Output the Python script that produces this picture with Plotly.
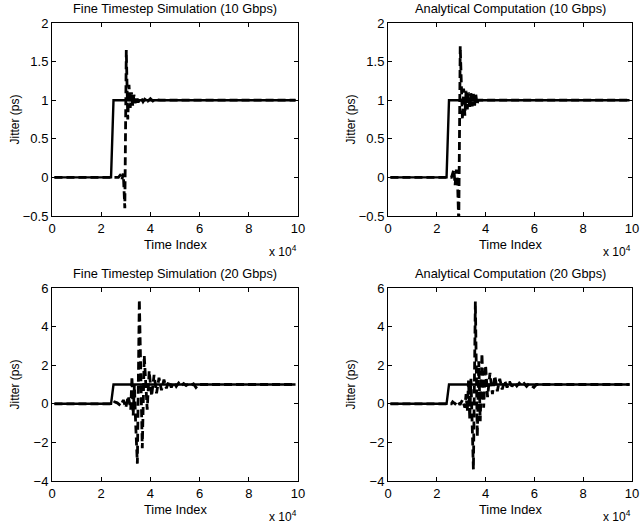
import plotly.graph_objects as go

# ---------------- data ----------------
# ideal step (solid) - shared by all panels
step_x = [1000, 24000, 25000, 99000]
step_y = [0, 0, 1, 1]

# Fine timestep simulation, 10 Gbps (dashed)
fts10_x = [1000, 27000, 28000, 28500, 29000, 29600, 30200, 30800, 31300, 31800, 32300,
           32800, 33300, 33800, 34300, 35000, 36000, 37000, 38000, 39000, 40000, 41000,
           42000, 43000, 44000, 99000]
fts10_y = [0, 0, 0.04, -0.02, 0.05, -0.4, 1.65, 0.75, 1.2, 0.9, 1.1,
           0.93, 1.07, 0.96, 1.05, 0.97, 1.04, 0.98, 1.03, 0.99, 1.02, 0.99,
           1.01, 1.0, 1.0, 1.0]

# Analytical computation, 10 Gbps (dashed)
ana10_x = [1000, 26000, 27000, 27500, 28000, 28500, 29000, 29600, 30500, 31000, 31500,
           32000, 32500, 33000, 33500, 34000, 34500, 35000, 35500, 36000, 36500, 37000,
           37500, 99000]
ana10_y = [0, 0, 0.1, -0.1, 0.1, -0.05, -0.6, 1.7, 0.75, 1.15, 0.8,
           1.12, 0.88, 1.1, 0.9, 1.09, 0.92, 1.08, 0.93, 1.07, 0.95, 1.0,
           1.0, 1.0]

# Fine timestep simulation, 20 Gbps (dashed)
fts20_x = [1000, 25000, 25500, 26500, 28000, 29000, 30000, 31000, 32000, 32500, 33000,
           33500, 34000, 34700, 35500, 36700, 37500, 38700, 39500, 40500, 41500, 42500,
           43500, 44500, 45500, 46500, 47500, 48500, 49500, 50500, 51500, 52500, 53500,
           54500, 55500, 56500, 57500, 58500, 59500, 60500, 99000]
fts20_y = [0, 0, 0.1, 0.05, -0.1, 0.2, -0.2, 0.4, -0.3, 1.4, -0.6,
           1.0, -1.0, -3.1, 5.4, -2.3, 2.5, -0.3, 1.7, 0.4, 1.5, 0.55,
           1.35, 0.7, 1.25, 0.8, 1.18, 0.85, 1.12, 0.9, 1.08, 0.93, 1.05,
           0.95, 1.04, 0.96, 1.03, 0.85, 1.0, 1.0, 1.0]

# Analytical computation, 20 Gbps (dashed)
ana20_x = [1000, 26000, 26500, 27500, 28500, 29500, 30500, 31500, 32000, 32500, 33000,
           33500, 34000, 34500, 35000, 35800, 36600, 37200, 37800, 38500, 39200, 40000,
           40800, 41800, 42800, 43800, 44800, 45800, 46800, 47800, 48800, 49800, 50800,
           51800, 52800, 53800, 54800, 55800, 56800, 57800, 58800, 59800, 60800, 99000]
ana20_y = [0, 0, 0.1, 0.0, 0.15, -0.05, 0.2, -0.2, 0.5, -0.4, 1.2,
           -0.8, 1.3, -1.5, -3.4, 5.3, -1.7, 2.2, -0.9, 2.6, -0.2, 2.0,
           0.35, 1.6, 0.5, 1.45, 0.65, 1.3, 0.75, 1.2, 0.85, 1.15, 0.9,
           1.1, 0.92, 1.07, 0.95, 1.05, 0.9, 1.04, 0.95, 0.85, 1.0, 1.0]

titles = ["Fine Timestep Simulation (10 Gbps)", "Analytical Computation (10 Gbps)",
          "Fine Timestep Simulation (20 Gbps)", "Analytical Computation (20 Gbps)"]
x_tick_vals = [0, 20000, 40000, 60000, 80000, 100000]
x_tick_text = ["0", "2", "4", "6", "8", "10"]
y_ranges = [[-0.5, 2], [-0.5, 2], [-4, 6], [-4, 6]]
y_dticks = [0.5, 0.5, 2, 2]

dashed = [(fts10_x, fts10_y), (ana10_x, ana10_y), (fts20_x, fts20_y), (ana20_x, ana20_y)]

# ---------------- layout ----------------
W, H = 641, 525
FONT = "Liberation Sans, Arial, Helvetica, sans-serif"
xdoms = [[52 / W, 298 / W], [388 / W, 632 / W]]
ydoms = [[1 - 216 / H, 1 - 23 / H], [1 - 481 / H, 1 - 288 / H]]

fig = go.Figure()
layout = dict(width=W, height=H, margin=dict(l=0, r=0, t=0, b=0),
              paper_bgcolor="white", plot_bgcolor="white", showlegend=False,
              font=dict(family=FONT, size=13, color="black"))
annotations = []

for i in range(4):
    row, col = divmod(i, 2)
    xa = "x" if i == 0 else f"x{i+1}"
    ya = "y" if i == 0 else f"y{i+1}"
    xkey = "xaxis" if i == 0 else f"xaxis{i+1}"
    ykey = "yaxis" if i == 0 else f"yaxis{i+1}"
    fig.add_trace(go.Scatter(x=step_x, y=step_y, mode="lines", xaxis=xa, yaxis=ya,
                             line=dict(color="black", width=2.4)))
    dx, dy = dashed[i]
    fig.add_trace(go.Scatter(x=dx, y=dy, mode="lines", xaxis=xa, yaxis=ya,
                             line=dict(color="black", width=2.8, dash="8px,4px")))
    axcommon = dict(showgrid=False, zeroline=False, showline=True, linecolor="black",
                    linewidth=1, mirror="ticks", ticks="inside", ticklen=4,
                    tickcolor="black", tickfont=dict(family=FONT, size=13, color="black"),
                    automargin=False)
    layout[xkey] = dict(domain=xdoms[col], range=[0, 100000], tickvals=x_tick_vals,
                        ticktext=x_tick_text, anchor=ya, ticklabelstandoff=0, **axcommon)
    layout[ykey] = dict(domain=ydoms[row], range=y_ranges[i], dtick=y_dticks[i],
                        tick0=0, anchor=xa, **axcommon)

    xmid = (xdoms[col][0] + xdoms[col][1]) / 2
    ybot = ydoms[row][0]
    ytop = ydoms[row][1]
    annotations.append(dict(text=titles[i], x=xmid, y=ytop + 15 / H, xref="paper", yref="paper",
                            showarrow=False, xanchor="center", yanchor="middle",
                            font=dict(family=FONT, size=12.8, color="black")))
    annotations.append(dict(text="Time Index", x=xmid, y=ybot - 28 / H, xref="paper", yref="paper",
                            showarrow=False, xanchor="center", yanchor="middle",
                            font=dict(family=FONT, size=12.8, color="black")))
    annotations.append(dict(text="x 10<sup>4</sup>", x=xdoms[col][1] + 1 / W, y=ybot - 35 / H,
                            xref="paper", yref="paper", showarrow=False,
                            xanchor="right", yanchor="middle",
                            font=dict(family=FONT, size=12, color="black")))
    annotations.append(dict(text="Jitter (ps)", x=xdoms[col][0] - 38 / W, y=(ybot + ytop) / 2,
                            xref="paper", yref="paper", showarrow=False, textangle=-90,
                            xanchor="center", yanchor="middle",
                            font=dict(family=FONT, size=12, color="black")))

layout["annotations"] = annotations
fig.update_layout(**layout)
fig.write_html("out.html")
